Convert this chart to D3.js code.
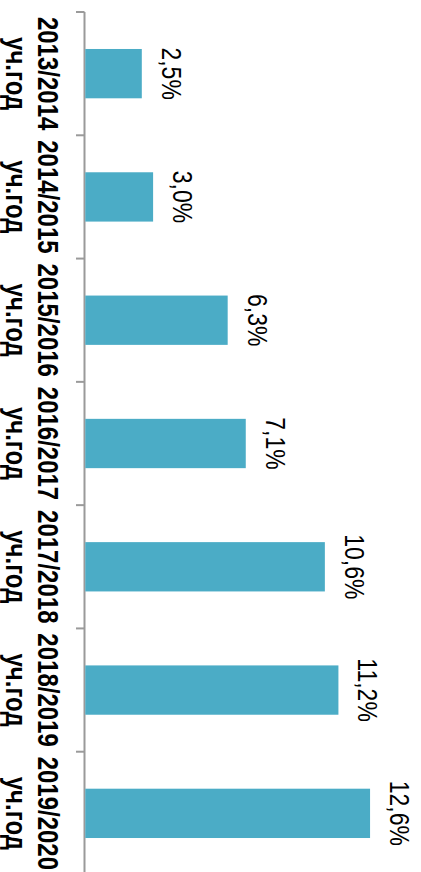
<!DOCTYPE html>
<html>
<head>
<meta charset="utf-8">
<script src="https://cdn.jsdelivr.net/npm/d3@7"></script>
<style>
  html, body { margin: 0; padding: 0; background: #fff; }
  svg { display: block; }
</style>
</head>
<body>
<svg id="chart"></svg>
<script>
const years = ['2013/2014', '2014/2015', '2015/2016', '2016/2017', '2017/2018', '2018/2019', '2019/2020']
const yearSuffix = 'уч.год'
const shares = [2.5, 3.0, 6.3, 7.1, 10.6, 11.2, 12.6]
const shareLabels = ['2,5%', '3,0%', '6,3%', '7,1%', '10,6%', '11,2%', '12,6%']

const width = 421
const height = 872
const stretch = 1.2   // the picture is stretched across the glyphs

const svg = d3.select('#chart')
  .attr('width', width)
  .attr('height', height)
  .attr('viewBox', `0 0 ${width} ${height}`)

// categories run top to bottom, the value axis runs to the right
const y = d3.scaleBand()
  .domain(years)
  .range([12, 875])
  .paddingInner(0.6)
  .paddingOuter(0.3)

const yEdges = d3.scaleBand()
  .domain(years)
  .range([12, 875])

const x = d3.scaleLinear()
  .domain([0, 14])
  .range([85.3, 85.3 + 22.6 * 14])

const axisColor = '#9a9a9a'

svg.append('line')
  .attr('x1', x(0) - 0.8)
  .attr('x2', x(0) - 0.8)
  .attr('y1', 12)
  .attr('y2', 875)
  .attr('stroke', axisColor)
  .attr('stroke-width', 2)

const edges = years.map(d => yEdges(d)).concat([yEdges.range()[1]])
svg.selectAll('.tick')
  .data(edges)
  .join('line')
  .attr('class', 'tick')
  .attr('x1', 76)
  .attr('x2', x(0) - 0.8)
  .attr('y1', d => d)
  .attr('y2', d => d)
  .attr('stroke', axisColor)
  .attr('stroke-width', 2)

svg.selectAll('.bar')
  .data(shares)
  .join('rect')
  .attr('class', 'bar')
  .attr('x', x(0))
  .attr('y', (d, i) => y(years[i]))
  .attr('width', d => x(d) - x(0))
  .attr('height', y.bandwidth())
  .attr('fill', '#4bacc6')

// value labels, turned a quarter clockwise
svg.selectAll('.value')
  .data(shares)
  .join('text')
  .attr('class', 'value')
  .attr('transform', (d, i) => `translate(${x(d) + 20},${y(years[i]) + y.bandwidth() / 2}) rotate(90) scale(1,${stretch})`)
  .attr('text-anchor', 'middle')
  .attr('font-family', 'Liberation Sans, Arial, sans-serif')
  .attr('font-size', '23px')
  .attr('fill', '#000')
  .text((d, i) => shareLabels[i])

// category labels on two lines
const cat = svg.selectAll('.cat')
  .data(years)
  .join('text')
  .attr('class', 'cat')
  .attr('transform', d => `translate(38,${yEdges(d) + yEdges.bandwidth() / 2}) rotate(90) scale(1,${stretch})`)
  .attr('text-anchor', 'middle')
  .attr('font-family', 'Liberation Sans, Arial, sans-serif')
  .attr('font-size', '24px')
  .attr('font-weight', 'bold')
  .attr('fill', '#000')

cat.append('tspan')
  .attr('x', 0)
  .attr('y', 0)
  .text(d => d)

cat.append('tspan')
  .attr('x', 0)
  .attr('dy', 26.5)
  .text(yearSuffix)
</script>
</body>
</html>
